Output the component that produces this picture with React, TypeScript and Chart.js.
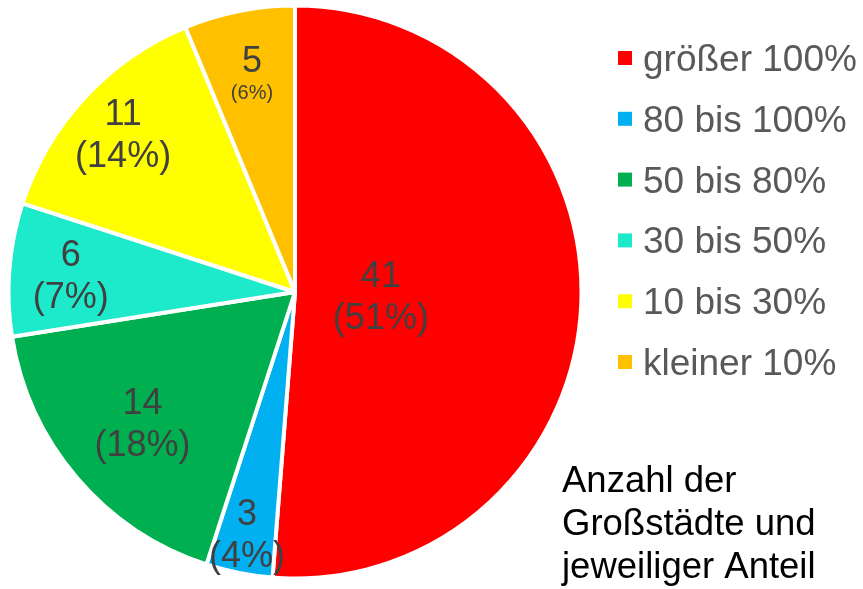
import React, { useEffect, useRef } from "react";
import { Chart, registerables } from "chart.js";

Chart.register(...registerables);

const categories = ["größer 100%", "80 bis 100%", "50 bis 80%", "30 bis 50%", "10 bis 30%", "kleiner 10%"];
const counts = [41, 3, 14, 6, 11, 5];
const percents = [51, 4, 18, 7, 14, 6];
const colors = ["#FF0000", "#00B0F0", "#00B050", "#1DE9CB", "#FFFF00", "#FFC000"];
const noteLines = ["Anzahl der", "Großstädte und", "jeweiliger Anteil"];

// label placement: fraction of radius along slice mid-angle
const labelRadius = [0.3, 0.857, 0.7, 0.785, 0.817, 0.77];
const smallPercent = [false, false, false, false, false, true];

const FONT = "'Liberation Sans', Arial, sans-serif";

const overlayPlugin = {
  id: "overlay",
  afterDatasetsDraw(chart: any) {
    const ctx = chart.ctx;
    const meta = chart.getDatasetMeta(0);
    ctx.save();
    ctx.textAlign = "center";
    ctx.textBaseline = "alphabetic";
    meta.data.forEach((arc: any, i: number) => {
      const mid = (arc.startAngle + arc.endAngle) / 2;
      const r = arc.outerRadius * labelRadius[i];
      const px = arc.x + Math.cos(mid) * r;
      const py = arc.y + Math.sin(mid) * r;
      ctx.fillStyle = "#404040";
      ctx.font = `36px ${FONT}`;
      if (smallPercent[i]) {
        ctx.fillText(String(counts[i]), px, py - 4);
        ctx.font = `20px ${FONT}`;
        ctx.fillText(`(${percents[i]}%)`, px, py + 23);
      } else {
        ctx.fillText(String(counts[i]), px, py - 8);
        ctx.fillText(`(${percents[i]}%)`, px, py + 34);
      }
    });

    // legend
    ctx.textAlign = "left";
    ctx.font = `37px ${FONT}`;
    categories.forEach((c, i) => {
      const base = 71 + i * 60.8;
      ctx.fillStyle = colors[i];
      ctx.fillRect(618, base - 20, 14, 14);
      ctx.fillStyle = "#595959";
      ctx.fillText(c, 643, base);
    });

    // note
    ctx.fillStyle = "#000000";
    ctx.font = `36.5px ${FONT}`;
    noteLines.forEach((t, i) => {
      ctx.fillText(t, 562, 492 + i * 43);
    });
    ctx.restore();
  },
};

export default function App() {
  const ref = useRef<HTMLCanvasElement | null>(null);
  useEffect(() => {
    document.body.style.margin = "0";
    if (!ref.current) return;
    const chart = new Chart(ref.current, {
      type: "pie",
      data: {
        labels: categories,
        datasets: [
          {
            data: counts,
            backgroundColor: colors,
            borderColor: "#FFFFFF",
            borderWidth: 4,
          },
        ],
      },
      options: {
        animation: false,
        responsive: false,
        devicePixelRatio: 1,
        radius: 286.5,
        layout: { padding: { left: 0, top: 0, right: 273, bottom: 5 } },
        plugins: {
          legend: { display: false },
          tooltip: { enabled: false },
        },
      } as any,
      plugins: [overlayPlugin],
    });
    return () => chart.destroy();
  }, []);
  return (
    <div style={{ position: "absolute", left: 0, top: 0, width: 863, height: 589, background: "#fff" }}>
      <canvas ref={ref} width={863} height={589} />
    </div>
  );
}
